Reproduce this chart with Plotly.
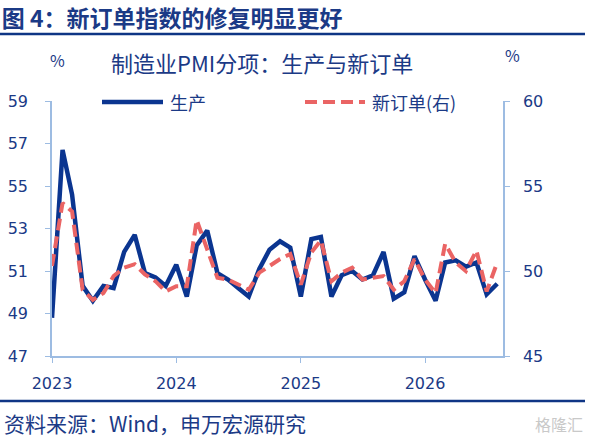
"""制造业PMI分项：生产与新订单 (图 4)."""

import pandas as pd
import plotly.graph_objects as go

# monthly observations, 2023-01 .. 2026-08
MONTHS = pd.date_range("2023-01-01", periods=44, freq="MS")
PRODUCTION = [
    48.8, 56.7, 54.6, 50.3, 49.6, 50.3, 50.2, 51.9, 52.7, 50.9, 50.7, 50.3,
    51.3, 49.8, 52.2, 52.9, 50.9, 50.6, 50.2, 49.8, 51.1, 52.0, 52.4, 52.1,
    49.8, 52.5, 52.6, 49.8, 50.8, 51.0, 50.6, 50.8, 51.9, 49.7, 50.0, 51.7,
    50.6, 49.6, 51.4, 51.5, 51.2, 51.4, 49.9, 50.4,
]
NEW_ORDERS = [
    50.3, 54.0, 53.5, 48.9, 48.3, 48.7, 49.7, 50.2, 50.4, 49.8, 49.4, 48.8,
    49.1, 49.1, 53.0, 51.2, 49.6, 49.5, 49.2, 48.9, 49.9, 50.3, 50.7, 51.0,
    49.2, 51.1, 51.8, 49.4, 49.9, 50.2, 49.5, 49.6, 49.7, 48.9, 49.4, 50.7,
    49.5, 48.7, 51.6, 50.5, 50.0, 51.2, 48.8, 50.5,
]
SERIES_NAMES = ["生产", "新订单(右)"]

NAVY = "#0B3590"
TEXT = "#1B3A86"
SALMON = "#EA6464"
AXIS = "#9DBCE2"
CJK = "Noto Sans CJK SC"
NUM = "DejaVu Sans, Noto Sans CJK SC"
DASH = "12px,6px"

# plot area in pixels of the 591x441 canvas
L, R, T, B = 52, 503, 101, 356


def px(x, y):
    return (x - L) / (R - L), (B - y) / (B - T)


fig = go.Figure()
fig.add_trace(go.Scatter(
    x=MONTHS, y=PRODUCTION, name=SERIES_NAMES[0], mode="lines",
    line=dict(color=NAVY, width=4.5),
))
fig.add_trace(go.Scatter(
    x=MONTHS, y=NEW_ORDERS, name=SERIES_NAMES[1], mode="lines", yaxis="y2",
    line=dict(color=SALMON, width=4, dash=DASH),
))

axis_common = dict(
    showline=True, linecolor=AXIS, linewidth=1.5, showgrid=False,
    zeroline=False, ticks="outside", tickcolor=AXIS, ticklen=5,
    tickfont=dict(family=NUM, size=16, color=TEXT),
)
fig.update_layout(
    width=591, height=441,
    margin=dict(l=L, r=591 - R, t=T, b=441 - B, autoexpand=False),
    paper_bgcolor="white", plot_bgcolor="white",
    title=dict(
        text="<b>图 4：新订单指数的修复明显更好</b>",
        font=dict(family=CJK, size=23, color=TEXT),
        x=0.003, xref="container", xanchor="left",
        y=1 - 19 / 441, yref="container", yanchor="middle",
    ),
    xaxis=dict(
        **axis_common, type="date", tickformat="%Y", dtick="M12",
        tick0="2023-01-01", range=["2023-01-01", "2026-08-18"],
        ticklabelstandoff=7,
    ),
    yaxis=dict(**axis_common, range=[47, 59], tick0=47, dtick=2,
               ticklabelstandoff=14),
    yaxis2=dict(
        **axis_common, range=[45, 60], tick0=45, dtick=5, overlaying="y",
        side="right", ticklabelstandoff=10,
    ),
    showlegend=False,
)

# legend keys drawn by hand so the sample lines are as long as in the source
legend_keys = [
    (SERIES_NAMES[0], 102, 163, dict(color=NAVY, width=4.5)),
    (SERIES_NAMES[1], 305, 365, dict(color=SALMON, width=4, dash=DASH)),
]
for name, x0, x1, line in legend_keys:
    (a0, ay), (a1, _) = px(x0, 102), px(x1, 102)
    fig.add_shape(type="line", xref="paper", yref="paper", x0=a0, x1=a1,
                  y0=ay, y1=ay, line=line)
    fig.add_annotation(
        text=name, x=px(x1 + 5, 0)[0], y=ay, xref="paper", yref="paper",
        xanchor="left", yanchor="middle", showarrow=False,
        font=dict(family=CJK, size=18, color=TEXT),
    )

annots = [
    ("制造业PMI分项：生产与新订单", 262, 62, "center", 22, TEXT),
    ("%", 57, 60, "center", 16, TEXT),
    ("%", 512, 55, "center", 16, TEXT),
    ("资料来源：Wind，申万宏源研究", 2, 423, "left", 21, TEXT),
    ("格隆汇", 585, 424, "right", 16, "#C9C9C9"),
]
for text, x, y, anchor, size, color in annots:
    ax, ay = px(x, y)
    fig.add_annotation(
        text=text, x=ax, y=ay, xref="paper", yref="paper", xanchor=anchor,
        yanchor="middle", showarrow=False,
        font=dict(family=CJK, size=size, color=color),
    )

for y in (34, 401):
    x0, y0 = px(0, y)
    x1, _ = px(585, y)
    fig.add_shape(type="line", xref="paper", yref="paper", x0=x0, x1=x1,
                  y0=y0, y1=y0, line=dict(color="#0F3585", width=2.5))

fig.write_html(
    "out.html",
    config={"displayModeBar": False},
    post_script="document.body.style.margin='0';",
)
